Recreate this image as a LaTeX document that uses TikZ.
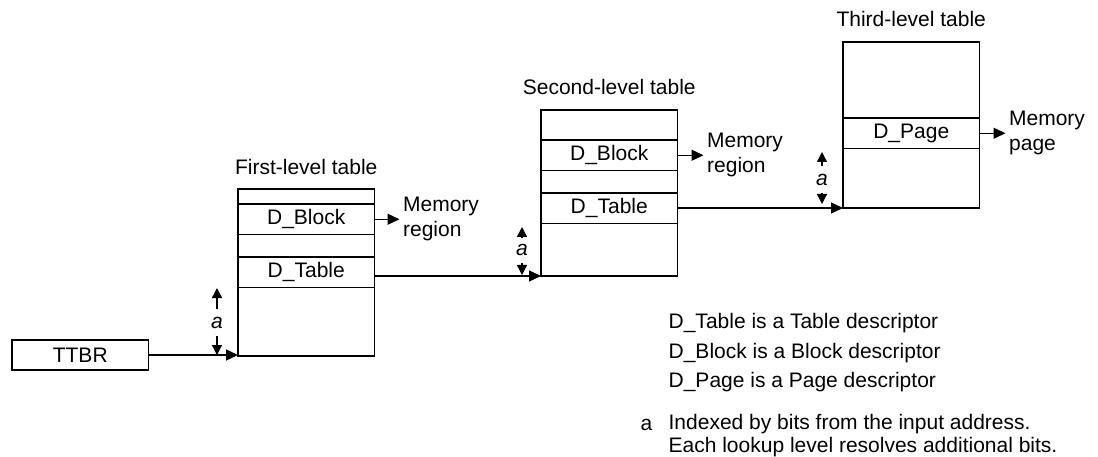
\documentclass[tikz,border=0pt]{standalone}
\usepackage{fontspec}
\setmainfont{Liberation Sans}
\usetikzlibrary{arrows.meta,positioning}

\begin{document}
\begin{tikzpicture}[
  x=1pt, y=-1pt, line width=1.3pt, font=\fontsize{21}{25}\selectfont,
  >={Triangle[length=12pt,width=11pt]},
  tbl/.style={rectangle, draw, outer sep=0pt, minimum width=136.5pt, anchor=north west},
  entry/.style={tbl, minimum height=30.5pt},
  head/.style={inner sep=0pt},
  mem/.style={align=left, inner sep=3pt},
  tag/.style={inner sep=7pt, font=\fontsize{21}{25}\selectfont\itshape},
  dim/.style={-{Triangle[length=10pt,width=10pt]}},
  key/.style={anchor=base west, inner sep=0pt}
]
\useasboundingbox (0,0) rectangle (1098,457);

% base register
\node[tbl, minimum height=30pt, anchor=west] (ttbr) at (12,355) {TTBR};

% first level
\node[tbl, minimum height=167pt] (t1) at (238,189) {};
\node[entry] (t1blk) at (238,204) {D\_Block};
\node[entry] (t1tab) at (238,257) {D\_Table};
\node[head, above=14pt of t1] (h1) {First-level table};
\node[mem, right=25pt of t1blk] (mem1) {Memory\\region};
\node[tag] (a1) at (217,322.5) {a};
\coordinate (a1top) at (217,288);
\coordinate (a1bot) at (217,355);

% second level
\node[tbl, minimum height=166pt] (t2) at (541,110) {};
\node[entry] (t2blk) at (541,140) {D\_Block};
\node[entry] (t2tab) at (541,193) {D\_Table};
\node[head, above=14.5pt of t2] (h2) {Second-level table};
\node[mem, right=26pt of t2blk] (mem2) {Memory\\region};
\node[tag] (a2) at (522,250) {a};
\coordinate (a2top) at (522,227);
\coordinate (a2bot) at (522,275);

% third level
\node[tbl, minimum height=166pt] (t3) at (843,42) {};
\node[entry] (t3page) at (843,118) {D\_Page};
\node[head, above=14.5pt of t3] (h3) {Third-level table};
\node[mem, right=26pt of t3page] (mem3) {Memory\\page};
\node[tag] (a3) at (822,179.5) {a};
\coordinate (a3top) at (822,152);
\coordinate (a3bot) at (822,204);

% walk
\draw[->] (ttbr.east) -- (ttbr.east -| t1.west);
\draw[->] (t1blk) -- (mem1);
\draw[->] (t1tab.east |- t2.south) -- (t2.south west);
\draw[->] (t2blk) -- (mem2);
\draw[->] (t2tab.east |- t3.south) -- (t3.south west);
\draw[->] (t3page) -- (mem3);

\draw[dim] (a1) -- (a1top);
\draw[dim] (a1) -- (a1bot);
\draw[dim] (a2) -- (a2top);
\draw[dim] (a2) -- (a2bot);
\draw[dim] (a3) -- (a3top);
\draw[dim] (a3) -- (a3bot);

% key
\node[key] (keyTab) at (668,328) {D\_Table is a Table descriptor};
\node[key] (keyBlk) at (668,358) {D\_Block is a Block descriptor};
\node[key] (keyPage) at (668,387) {D\_Page is a Page descriptor};
\node[key] (keyA) at (640,430) {a};
\node[anchor=west, inner sep=0pt, align=left, font=\fontsize{21}{23.5}\selectfont] (keyNote) at (668,435.5)
  {Indexed by bits from the input address.\\Each lookup level resolves additional bits.};
\end{tikzpicture}
\end{document}
